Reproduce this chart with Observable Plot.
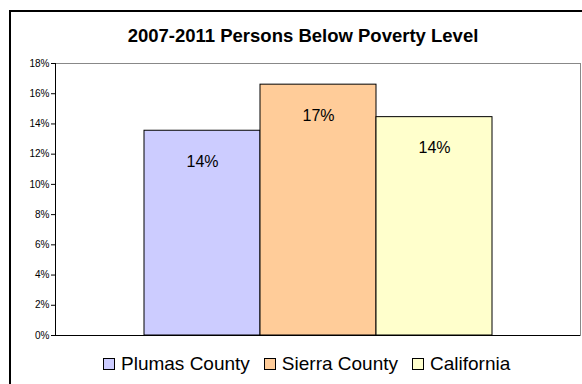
<!DOCTYPE html>
<html>
<head>
<meta charset="utf-8">
<script src="https://cdn.jsdelivr.net/npm/d3@7"></script>
<script src="https://cdn.jsdelivr.net/npm/@observablehq/plot@0.6"></script>
<style>
  html, body { margin: 0; padding: 0; background: #fff; }
  #wrap { position: relative; width: 582px; height: 384px; overflow: hidden; font-family: "Liberation Sans", Arial, sans-serif; }
  #border { position: absolute; left: 9px; top: 10px; width: 620px; height: 420px; border: 2px solid #000; box-sizing: border-box; }
  #title { position: absolute; left: 0; width: 606px; top: 27px; text-align: center; font-weight: bold; font-size: 18.5px; line-height: 18.5px; color: #000; }
  #chart { position: absolute; left: 0; top: 0; }
  #legend { position: absolute; left: 103px; top: 354px; display: flex; align-items: center; font-size: 19px; line-height: 19px; color: #000; white-space: nowrap; }
  .item { display: flex; align-items: center; margin-right: 14px; }
  .sw { width: 12px; height: 12px; box-sizing: border-box; border: 1px solid #000; margin-right: 6px; }
</style>
</head>
<body>
<div id="wrap">
  <div id="border"></div>
  <div id="title"></div>
  <div id="chart"></div>
  <div id="legend"></div>
</div>
<script>
// ---- data ----
const title = "2007-2011 Persons Below Poverty Level";
const series = ["Plumas County", "Sierra County", "California"];
const values = [13.55, 16.6, 14.45];
const yTicks = [0, 2, 4, 6, 8, 10, 12, 14, 16, 18];

// ---- styles ----
const colors = ["#CCCCFF", "#FFCC99", "#FFFFCC"];

const data = series.map((s, i) => ({ series: s, value: values[i] }));

document.getElementById("title").textContent = title;

const chart = Plot.plot({
  width: 582,
  height: 384,
  marginLeft: 55,
  marginRight: 2,
  marginTop: 63,
  marginBottom: 49,
  style: { fontFamily: "Liberation Sans, Arial, sans-serif", background: "transparent", overflow: "visible" },
  x: { domain: series, paddingInner: 0, paddingOuter: 0.75, axis: null },
  y: { domain: [0, 18] },
  color: { domain: series, range: colors },
  marks: [
    Plot.frame({ stroke: "#888888" }),
    Plot.barY(data, { x: "series", y: "value", fill: "series", stroke: "#000", strokeWidth: 1 }),
    Plot.text(data, { x: "series", y: "value", text: d => Math.round(d.value) + "%", dy: 31, fontSize: 16, fill: "#000" }),
    Plot.axisY({ ticks: yTicks, tickFormat: d => d + "%", tickSize: 4, tickPadding: 2, fontSize: 10, label: null, color: "#000" }),
    Plot.frame({ anchor: "left", stroke: "#000" }),
    Plot.ruleY([0], { stroke: "#000" })
  ]
});
document.getElementById("chart").appendChild(chart);

const legend = document.getElementById("legend");
series.forEach((s, i) => {
  const item = document.createElement("div");
  item.className = "item";
  const sw = document.createElement("div");
  sw.className = "sw";
  sw.style.background = colors[i];
  const lab = document.createElement("span");
  lab.textContent = s;
  item.appendChild(sw);
  item.appendChild(lab);
  legend.appendChild(item);
});
</script>
</body>
</html>
